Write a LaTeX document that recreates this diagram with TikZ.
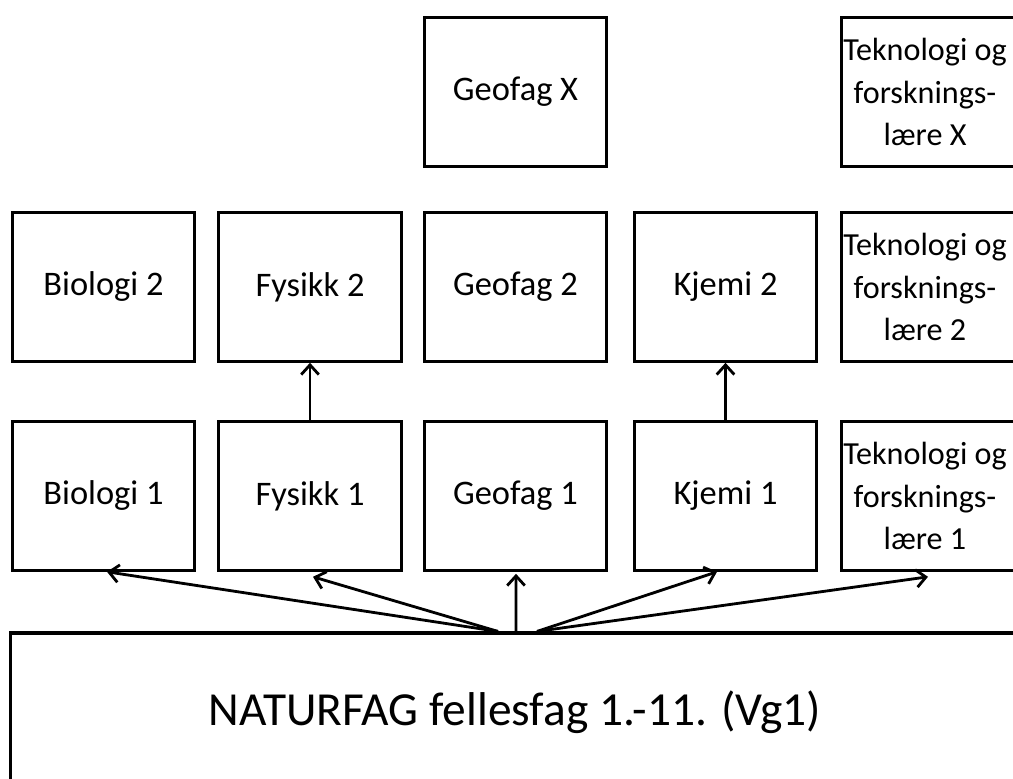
\documentclass[tikz,border=0pt]{standalone}
\usepackage{fontspec}
\setmainfont{Carlito}
\usetikzlibrary{arrows.meta}
\usetikzlibrary{calc}

\begin{document}
\begin{tikzpicture}[x=0.02cm,y=0.02cm,>/.tip={Straight Barb[length=5.5pt,width=10pt]},
	fagbox/.style={draw,line width=1.8pt,minimum width=3.65cm,minimum height=2.97cm,inner sep=0pt,align=center,font=\fontsize{19.6}{24.2}\selectfont},
	tektext/.style={xshift=-0.15cm,align=center,font=\fontsize{18.3}{24.2}\selectfont},
	pil/.style={->,line width=1.6pt}]
	\useasboundingbox (0,0) rectangle (1013,778);
	\clip (0,0) rectangle (1013,778);
	% top row
	\draw (515.5,686) node (geox) [fagbox] {Geofag X};
	\draw (932.5,686) node (tekx) [fagbox,label={[tektext]center:Teknologi og\\forsknings-\\lære X}] {};
	% second level
	\draw (103.5,491) node (bio2) [fagbox] {Biologi 2};
	\draw (310,491) node (fys2) [fagbox] {Fysikk 2};
	\draw (515.5,491) node (geo2) [fagbox] {Geofag 2};
	\draw (725.5,491) node (kje2) [fagbox] {Kjemi 2};
	\draw (932.5,491) node (tek2) [fagbox,label={[tektext]center:Teknologi og\\forsknings-\\lære 2}] {};
	% first level
	\draw (103.5,282) node (bio1) [fagbox] {Biologi 1};
	\draw (310,282) node (fys1) [fagbox] {Fysikk 1};
	\draw (515.5,282) node (geo1) [fagbox] {Geofag 1};
	\draw (725.5,282) node (kje1) [fagbox] {Kjemi 1};
	\draw (932.5,282) node (tek1) [fagbox,label={[tektext]center:Teknologi og\\forsknings-\\lære 1}] {};
	% common subject
	\draw (515,66) node (natur) [draw,line width=1.8pt,minimum width=20.2cm,minimum height=3.16cm,inner sep=0pt,font=\fontsize{27}{32}\selectfont] {NATURFAG fellesfag 1.-11. (Vg1)};
	\coordinate (hubl) at ($(natur.north)+(-17,0)$);
	\coordinate (hubm) at ($(natur.north)+(1,0)$);
	\coordinate (hubr) at ($(natur.north)+(22,0)$);
	\path[pil] (hubl) edge ($(bio1.south)+(3.5,0)$);
	\path[pil] (hubl) edge ($(fys1.south)+(3,-5)$);
	\path[pil] (hubm) edge ($(geo1.south)+(0.5,-2)$);
	\path[pil] (hubr) edge ($(kje1.south)+(-8.5,0)$);
	\path[pil] (hubr) edge ($(tek1.south)+(-4.5,-5)$);
	\path[pil] (fys1) edge (fys2);
	\path[pil] (kje1) edge (kje2);
\end{tikzpicture}
\end{document}
